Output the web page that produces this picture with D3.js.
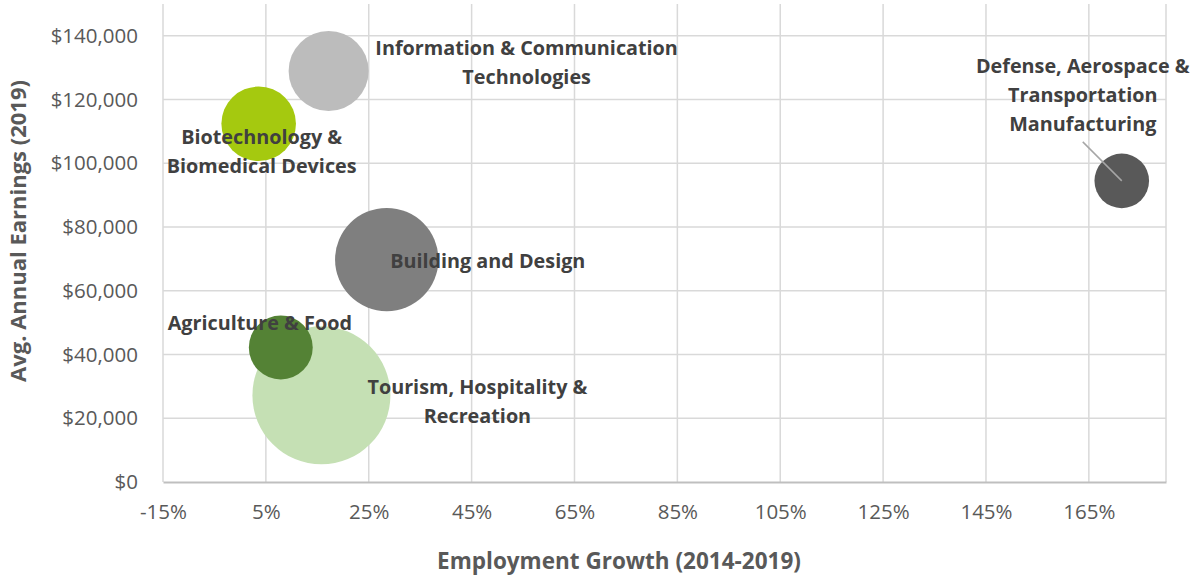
<!DOCTYPE html>
<html>
<head>
<meta charset="utf-8">
<script src="https://cdn.jsdelivr.net/npm/d3@7"></script>
<style>
  html, body { margin: 0; padding: 0; background: #ffffff; }
  svg { display: block; }
</style>
</head>
<body>
<svg id="chart" width="1192" height="577"></svg>
<script>
// ---- Data ----
const categories = [
  "Information & Communication Technologies",
  "Biotechnology & Biomedical Devices",
  "Building and Design",
  "Agriculture & Food",
  "Tourism, Hospitality & Recreation",
  "Defense, Aerospace & Transportation Manufacturing"
];
const employmentGrowth = [17.2, 3.6, 28.5, 7.9, 15.8, 171.4];      // percent, 2014-2019
const avgEarnings      = [129000, 112400, 69800, 42200, 27200, 94500]; // 2019
const bubbleSize       = [1600, 1390, 2670, 1020, 4760, 745];       // relative bubble size
const xTickValues = [-15, 5, 25, 45, 65, 85, 105, 125, 145, 165];
const yTickValues = [0, 20000, 40000, 60000, 80000, 100000, 120000, 140000];

// ---- Styling / layout (kept apart from data) ----
const colors = ["#bcbcbc", "#a5c90f", "#7f7f7f", "#548235", "#c5e0b4", "#595959"];
const labelLines = [
  ["Information & Communication", "Technologies"],
  ["Biotechnology &", "Biomedical Devices"],
  ["Building and Design"],
  ["Agriculture & Food"],
  ["Tourism, Hospitality &", "Recreation"],
  ["Defense, Aerospace &", "Transportation", "Manufacturing"]
];
// label offsets (px) of the first line centre relative to the bubble centre
const labelOffset = [[198, -23], [3, 13], [101, 1], [-21, -24], [156, -8], [-39, -115]];
const leaderLine = [null, null, null, null, null, [-39, -39]];

const W = 1192, H = 577;
const margin = { left: 163, right: 26, top: 4, bottom: 95 };
const plotW = W - margin.left - margin.right;
const plotH = H - margin.top - margin.bottom;

const svg = d3.select("#chart");
const g = svg.append("g").attr("transform", `translate(${margin.left},${margin.top})`);

const x = d3.scaleLinear().domain([-15, 180]).range([0, plotW]);
const y = d3.scaleLinear().domain([0, 150000]).range([plotH, 0]);
const r = d3.scaleSqrt().domain([0, d3.max(bubbleSize)]).range([0, 69]);

const FONT = "'Open Sans', 'Noto Sans', sans-serif";

// gridlines
g.append("g").selectAll("line.vg").data(xTickValues.concat([180])).join("line")
  .attr("x1", d => x(d)).attr("x2", d => x(d))
  .attr("y1", 0).attr("y2", plotH)
  .attr("stroke", "#d9d9d9").attr("stroke-width", 1.5);
g.append("g").selectAll("line.hg").data(yTickValues.filter(d => d > 0)).join("line")
  .attr("x1", 0).attr("x2", plotW)
  .attr("y1", d => y(d)).attr("y2", d => y(d))
  .attr("stroke", "#d9d9d9").attr("stroke-width", 1.5);

// axes
const xAxis = d3.axisBottom(x).tickValues(xTickValues).tickFormat(d => d + "%").tickSize(0).tickPadding(22);
const gx = g.append("g").attr("transform", `translate(0,${plotH})`).call(xAxis);
gx.select(".domain").attr("stroke", "#bfbfbf").attr("stroke-width", 2);
gx.selectAll("text").attr("fill", "#595959").style("font-family", FONT).style("font-size", "20.5px");

const yAxis = d3.axisLeft(y).tickValues(yTickValues).tickFormat(d => "$" + d3.format(",")(d)).tickSize(0).tickPadding(25);
const gy = g.append("g").call(yAxis);
gy.select(".domain").remove();
gy.selectAll("text").attr("fill", "#595959").style("font-family", FONT).style("font-size", "20.5px");

// bubbles (largest drawn first)
const idx = d3.range(categories.length).sort((a, b) => bubbleSize[b] - bubbleSize[a]);
g.append("g").selectAll("circle").data(idx).join("circle")
  .attr("cx", i => x(employmentGrowth[i]))
  .attr("cy", i => y(avgEarnings[i]))
  .attr("r", i => r(bubbleSize[i]))
  .attr("fill", i => colors[i]);

// leader lines
g.append("g").selectAll("line").data(d3.range(categories.length).filter(i => leaderLine[i])).join("line")
  .attr("x1", i => x(employmentGrowth[i]) + leaderLine[i][0])
  .attr("y1", i => y(avgEarnings[i]) + leaderLine[i][1])
  .attr("x2", i => x(employmentGrowth[i]))
  .attr("y2", i => y(avgEarnings[i]))
  .attr("stroke", "#a6a6a6").attr("stroke-width", 1.5);

// labels
const lineH = 29;
const lab = g.append("g").selectAll("text").data(d3.range(categories.length)).join("text")
  .attr("text-anchor", "middle")
  .attr("fill", "#404040")
  .style("font-family", FONT).style("font-weight", "bold").style("font-size", "19.8px")
  .attr("x", i => x(employmentGrowth[i]) + labelOffset[i][0])
  .attr("y", i => y(avgEarnings[i]) + labelOffset[i][1]);
lab.each(function (i) {
  const t = d3.select(this);
  labelLines[i].forEach((ln, k) => {
    t.append("tspan")
      .attr("x", x(employmentGrowth[i]) + labelOffset[i][0])
      .attr("dy", k === 0 ? "0.35em" : lineH)
      .text(ln);
  });
});

// axis titles
svg.append("text")
  .attr("x", 619).attr("y", 561).attr("dy", "0.35em")
  .attr("text-anchor", "middle").attr("fill", "#595959")
  .style("font-family", FONT).style("font-weight", "bold").style("font-size", "22.5px")
  .text("Employment Growth (2014-2019)");
svg.append("text")
  .attr("transform", "translate(18,231) rotate(-90)")
  .attr("dy", "0.35em")
  .attr("text-anchor", "middle").attr("fill", "#595959")
  .style("font-family", FONT).style("font-weight", "bold").style("font-size", "22px")
  .text("Avg. Annual Earnings (2019)");
</script>
</body>
</html>
